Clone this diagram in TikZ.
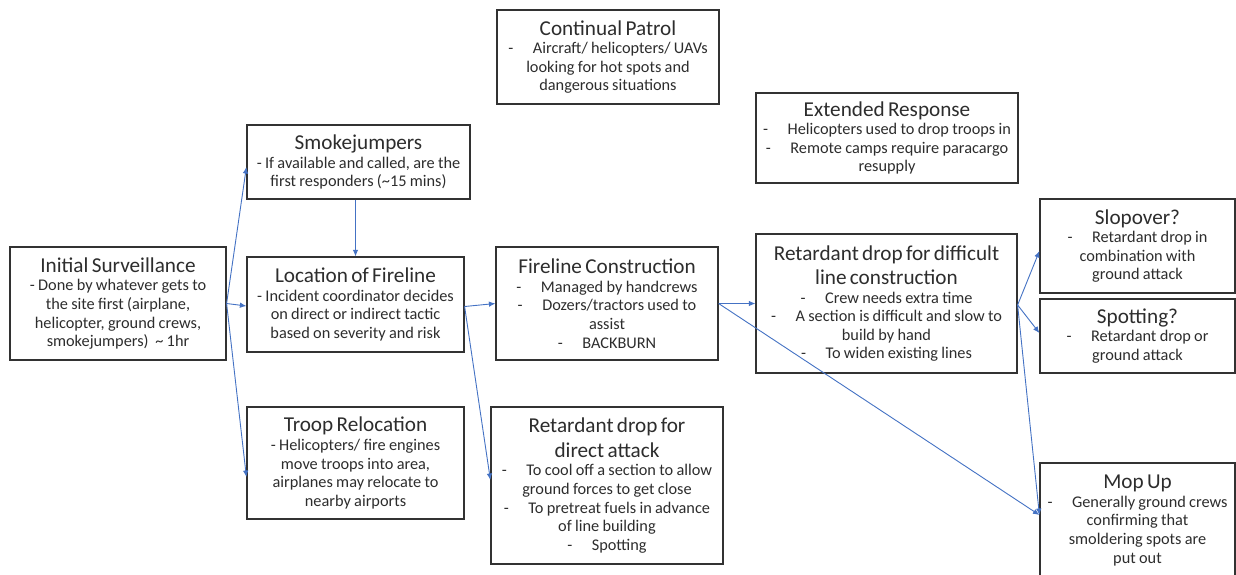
\documentclass[tikz,border=0pt]{standalone}
\usepackage{fontspec}
\setmainfont{Carlito}
\usetikzlibrary{arrows.meta}
\definecolor{arrowblue}{RGB}{68,114,196}
\definecolor{boxline}{RGB}{50,50,50}
\definecolor{txt}{RGB}{45,45,45}
\newcommand\ttl{\fontsize{21.2}{24.5}\selectfont}
\newcommand\bdy{\fontsize{16.3}{18.6}\selectfont}
\newcommand\dsh{-\hspace{1.2em}}
\begin{document}
\begin{tikzpicture}[x=1pt,y=-1pt,
  box/.style={draw=boxline, line width=1.2pt, inner sep=0pt, align=center, text=txt},
  conn/.style={draw=arrowblue, line width=0.9pt, -{Latex[length=6.5pt,width=5.5pt]}}]
\useasboundingbox (0,0) rectangle (1236,574);
\fill[white] (0,0) rectangle (1236,574);

\node[box, minimum width=216pt, minimum height=113pt, text width=212pt] (init) at (118,303.5)
 {{\ttl Initial Surveillance\par}{\bdy - Done by whatever gets to\\ the site first (airplane,\\ helicopter, ground crews,\\ smokejumpers)\ \ \textasciitilde\ 1hr\par}};

\node[box, minimum width=223pt, minimum height=74pt, text width=219pt] (smoke) at (358.5,162)
 {{\ttl Smokejumpers\par}{\bdy - If available and called, are the\\ first responders (\textasciitilde15 mins)\par}};

\node[box, minimum width=217pt, minimum height=95pt, text width=213pt] (loc) at (355.5,304.5)
 {{\ttl Location of Fireline\par}{\bdy - Incident coordinator decides\\ on direct or indirect tactic\\ based on severity and risk\par}};

\node[box, minimum width=217pt, minimum height=112pt, text width=213pt] (troop) at (355.5,463)
 {{\ttl Troop Relocation\par}{\bdy - Helicopters/ fire engines\\ move troops into area,\\ airplanes may relocate to\\ nearby airports\par}};

\node[box, minimum width=222pt, minimum height=94pt, text width=218pt] (patrol) at (608,57)
 {{\ttl Continual Patrol\par}{\bdy \dsh Aircraft/ helicopters/ UAVs\\ looking for hot spots and\\ dangerous situations\par}};

\node[box, minimum width=222pt, minimum height=113pt, text width=218pt] (fc) at (607,303.5)
 {{\ttl Fireline Construction\par}{\bdy \dsh Managed by handcrews\\ \dsh Dozers/tractors used to\\ assist\\ \dsh BACKBURN\par}};

\node[box, minimum width=232pt, minimum height=157pt, text width=228pt] (rdirect) at (607,485.5)
 {{\ttl Retardant drop for\\ direct attack\par}{\bdy \dsh To cool off a section to allow\\ ground forces to get close\\ \dsh To pretreat fuels in advance\\ of line building\\ \dsh Spotting\par}};

\node[box, minimum width=262pt, minimum height=90pt, text width=258pt] (ext) at (887,138)
 {{\ttl Extended Response\par}{\bdy \dsh Helicopters used to drop troops in\\ \dsh Remote camps require paracargo\\ resupply\par}};

\node[box, minimum width=261pt, minimum height=139pt, text width=257pt] (rdiff) at (886.5,303.5)
 {{\ttl Retardant drop for difficult\\ line construction\par}{\bdy \dsh Crew needs extra time\\ \dsh A section is difficult and slow to\\ build by hand\\ \dsh To widen existing lines\par}};

\node[box, minimum width=195pt, minimum height=94pt, text width=191pt] (slop) at (1137.5,246)
 {{\ttl Slopover?\par}{\bdy \dsh Retardant drop in\\ combination with\\ ground attack\par}};

\node[box, minimum width=195pt, minimum height=74pt, text width=191pt] (spot) at (1137.5,336)
 {{\ttl Spotting?\par}{\bdy \dsh Retardant drop or\\ ground attack\par}};

\node[box, minimum width=195pt, minimum height=115pt, text width=191pt] (mop) at (1137.5,520.5)
 {{\ttl Mop Up\par}{\bdy \dsh Generally ground crews\\ confirming that\\ smoldering spots are\\ put out\par}};

% connectors
\draw[conn] (init.east) -- ([yshift=-5pt]smoke.west);
\draw[conn] (init.east) -- ([yshift=-1.5pt]loc.west);
\draw[conn] (init.east) -- ([yshift=-14pt]troop.west);
\draw[conn] ([xshift=-3pt]smoke.south) -- ([xshift=-3pt]smoke.south |- loc.north);
\draw[conn] ([yshift=-2pt]loc.east) -- (fc.west);
\draw[conn] ([yshift=-2pt]loc.east) -- ([yshift=5.5pt]rdirect.west);
\draw[conn] (fc.east) -- (rdiff.west);
\draw[conn] (fc.east) -- ([yshift=5.5pt]mop.west);
\draw[conn] ([yshift=-1.5pt]rdiff.east) -- ([yshift=-5pt]slop.west);
\draw[conn] ([yshift=-1.5pt]rdiff.east) -- ([yshift=3pt]spot.west);
\draw[conn] ([yshift=-1.5pt]rdiff.east) -- ([yshift=5.5pt]mop.west);
\end{tikzpicture}
\end{document}
